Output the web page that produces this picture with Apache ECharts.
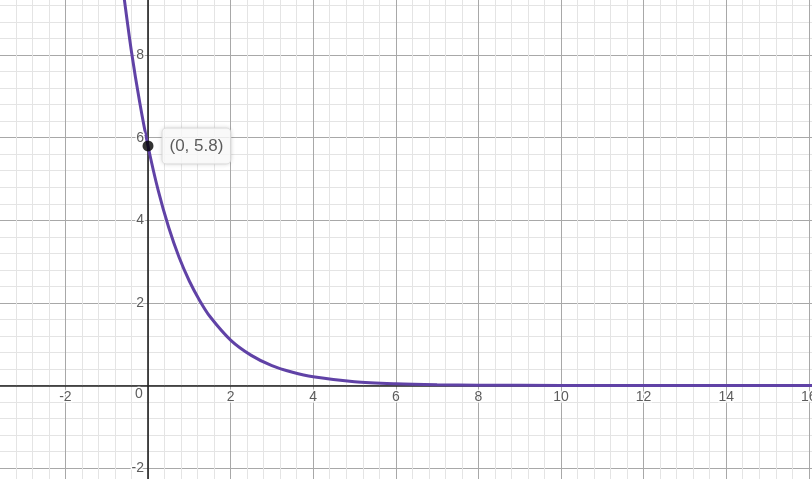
<!DOCTYPE html>
<html>
<head>
<meta charset="utf-8">
<script src="https://cdn.jsdelivr.net/npm/echarts@6/dist/echarts.min.js"></script>
<style>
	html, body { margin: 0; padding: 0; background: #fff; }
	#chart { width: 812px; height: 479px; }
</style>
</head>
<body>
<div id="chart"></div>
<script>
// curve
const xs = [-0.7, -0.6, -0.4, -0.2, 0, 0.25, 0.5, 0.75, 1, 1.25, 1.5, 2, 2.5, 3, 3.5, 4, 5, 6, 7, 8, 10, 12, 14, 16.5]
const ys = [10.3, 9.55, 8.08, 6.85, 5.8, 4.71, 3.83, 3.11, 2.53, 2.06, 1.67, 1.1, 0.73, 0.48, 0.32, 0.21, 0.09, 0.04, 0.017, 0.008, 0.002, 0, 0, 0]
const point = [0, 5.8]
const pointLabel = '(0, 5.8)'
const xTickLabels = [-2, 2, 4, 6, 8, 10, 12, 14, 16]
const yTickLabels = [8, 6, 4, 2, -2]

// pixel scale: 1 unit ~ 41.3px, origin at (148, 385.5)
const unit = 41.3
const ox = 148, oy = 385.5
const xMin = -4, xMax = 18
const yMin = -4, yMax = 10

const instance = echarts.init(document.getElementById('chart'), null, { renderer: 'canvas' })

const labelStyle = {
	color: '#333',
	fontSize: 14,
	fontFamily: 'Arial, "Liberation Sans", sans-serif',
	textBorderColor: '#fff',
	textBorderWidth: 3,
}

const axisCommon = {
	type: 'value',
	interval: 2,
	axisLine: { onZero: true, lineStyle: { color: '#222', width: 1.6 } },
	axisTick: { show: false },
	axisLabel: { show: false },
	splitLine: { show: true, lineStyle: { color: '#a8a8a8', width: 1 } },
	minorTick: { show: false, splitNumber: 5 },
	minorSplitLine: { show: true, lineStyle: { color: '#e4e4e4', width: 1 } },
}

const option = {
	animation: false,
	backgroundColor: '#fff',
	grid: {
		left: ox + xMin * unit,
		width: (xMax - xMin) * unit,
		top: oy - yMax * unit,
		height: (yMax - yMin) * unit,
		containLabel: false,
		outerBoundsMode: 'none',
	},
	xAxis: { ...axisCommon, min: xMin, max: xMax },
	yAxis: { ...axisCommon, min: yMin, max: yMax },
	series: [
		{
			type: 'line',
			data: xs.map((x, i) => [x, ys[i]]),
			smooth: 0.3,
			showSymbol: false,
			clip: true,
			lineStyle: { color: '#6042a6', width: 3 },
			z: 3,
		},
		{
			// x tick labels
			type: 'scatter',
			data: xTickLabels.map(v => [v, 0]),
			symbolSize: 0,
			silent: true,
			z: 4,
			label: { show: true, position: 'bottom', distance: 5, formatter: p => String(p.value[0]), ...labelStyle },
		},
		{
			// y tick labels
			type: 'scatter',
			data: yTickLabels.map(v => [0, v]),
			symbolSize: 0,
			silent: true,
			z: 4,
			label: { show: true, position: 'left', distance: 4, formatter: p => String(p.value[1]), ...labelStyle },
		},
		{
			// origin label
			type: 'scatter',
			data: [[0, 0]],
			symbolSize: 0,
			silent: true,
			z: 4,
			label: { show: true, position: 'bottom', distance: 2, offset: [-9, 0], formatter: '0', ...labelStyle },
		},
		{
			type: 'scatter',
			data: [point],
			symbolSize: 11,
			itemStyle: { color: '#000' },
			z: 5,
			label: {
				show: true,
				position: 'right',
				distance: 9,
				formatter: pointLabel,
				color: '#333',
				fontSize: 17,
				fontFamily: 'Arial, "Liberation Sans", sans-serif',
				backgroundColor: '#fff',
				borderColor: '#e2e2e2',
				borderWidth: 1,
				borderRadius: 4,
				padding: [9, 7, 9, 7],
				shadowColor: 'rgba(0,0,0,0.15)',
				shadowBlur: 4,
			},
		},
	],
}

instance.setOption(option)
</script>
</body>
</html>
